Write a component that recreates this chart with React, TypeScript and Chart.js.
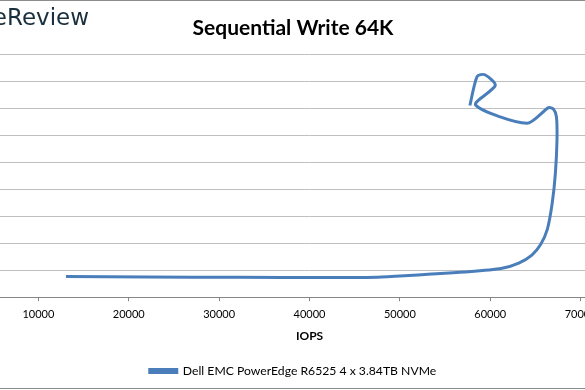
import React, { useEffect, useRef } from "react";
import { Chart, registerables } from "chart.js";

Chart.register(...registerables);

const TITLE = "Sequential Write 64K";
const X_TITLE = "IOPS";
const Y_TITLE = "Average Latency (ms)";
const SERIES_NAME = "Dell EMC PowerEdge R6525 4 x 3.84TB NVMe";

const iops: number[] = [
  13050, 22000, 32000, 42000, 47500, 50500, 53500, 57600, 61300, 63150,
  64600, 65550, 66300, 66850, 67200, 67380, 67320, 67000, 66450, 64060,
  58370, 60550, 59400, 58550, 57740,
];
const latency: number[] = [
  0.385, 0.376, 0.368, 0.366, 0.37, 0.395, 0.43, 0.47, 0.535, 0.63,
  0.78, 0.97, 1.25, 1.74, 2.29, 2.91, 3.34, 3.48, 3.51, 3.22,
  3.56, 3.92, 4.12, 4.09, 3.55,
];

const X_MIN = 0;
const X_MAX = 80000;
const X_STEP = 10000;
const Y_MIN = 0;
const Y_MAX = 4.5;
const Y_STEP = 0.5;

const FONT = "Lato, 'Open Sans', 'Noto Sans', sans-serif";

export default function App() {
  const ref = useRef<HTMLCanvasElement | null>(null);

  useEffect(() => {
    if (!ref.current) return;
    const chart = new Chart(ref.current, {
      type: "scatter",
      data: {
        datasets: [
          {
            label: SERIES_NAME,
            data: iops.map((x, i) => ({ x, y: latency[i] })),
            showLine: true,
            borderColor: "#4a7ebb",
            backgroundColor: "#4a7ebb",
            borderWidth: 3,
            pointRadius: 0,
            tension: 0.25,
          },
        ],
      },
      options: {
        animation: false,
        responsive: false,
        devicePixelRatio: 1,
        layout: { padding: { left: 0, right: 22, top: 0, bottom: 3 } },
        plugins: {
          title: {
            display: true,
            text: TITLE,
            color: "#000",
            font: { family: FONT, weight: "bold", size: 21, lineHeight: 1.2 },
            padding: { top: 16, bottom: 13 },
          },
          legend: {
            position: "bottom",
            labels: {
              boxWidth: 27,
              boxHeight: 3,
              padding: 10,
              color: "#000",
              font: { family: FONT, size: 12.2 },
            },
          },
          tooltip: { enabled: false },
        },
        scales: {
          x: {
            type: "linear",
            min: X_MIN,
            max: X_MAX,
            ticks: {
              stepSize: X_STEP,
              color: "#000",
              padding: 7,
              font: { family: FONT, size: 11 },
              maxRotation: 0,
              callback: (v: any) => String(v),
            },
            grid: {
              drawOnChartArea: false,
              drawTicks: true,
              tickLength: 4,
              tickColor: "#868686",
            },
            border: { color: "#868686" },
            title: {
              display: true,
              text: X_TITLE,
              color: "#000",
              font: { family: FONT, weight: "bold", size: 12 },
              padding: { top: 1, bottom: 11 },
            },
          },
          y: {
            type: "linear",
            min: Y_MIN,
            max: Y_MAX,
            ticks: {
              stepSize: Y_STEP,
              color: "#000",
              font: { family: FONT, size: 11 },
            },
            grid: { color: "#bfbfbf", drawTicks: false },
            border: { display: false },
            title: {
              display: false,
              text: Y_TITLE,
            },
            afterFit: (scale: any) => {
              scale.width = 34;
            },
          },
        },
      },
    });
    return () => chart.destroy();
  }, []);

  return (
    <div
      style={{
        position: "fixed",
        left: 0,
        top: 0,
        width: 585,
        height: 390,
        overflow: "hidden",
        background: "#fff",
      }}
    >
      <canvas
        ref={ref}
        width={780}
        height={390}
        style={{ position: "absolute", left: -86, top: 0, width: 780, height: 390 }}
      />
      <div
        style={{
          position: "absolute",
          right: 585 - 89,
          top: 3,
          fontFamily: "'DejaVu Sans', sans-serif",
          fontSize: 23,
          lineHeight: "28px",
          color: "#1a2f3e",
          whiteSpace: "nowrap",
        }}
      >
        StorageReview
      </div>
      <div style={{ position: "absolute", left: 0, top: 0, width: 585, height: 1, background: "#8c8c8c" }} />
      <div style={{ position: "absolute", left: 0, top: 388, width: 585, height: 1, background: "#8c8c8c" }} />
    </div>
  );
}
